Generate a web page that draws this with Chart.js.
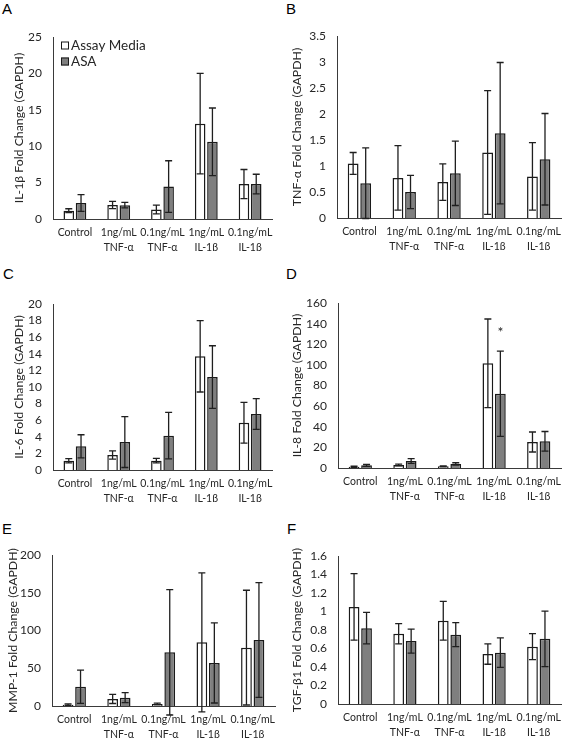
<!DOCTYPE html>
<html>
<head>
<meta charset="utf-8">
<script src="https://cdn.jsdelivr.net/npm/chart.js@4.4.0/dist/chart.umd.min.js"></script>
<style>
  body { margin: 0; background: #fff; width: 568px; height: 741px; position: relative; overflow: hidden; }
  canvas { position: absolute; }
  .letter { position: absolute; font-family: "Liberation Sans", Arial, sans-serif; font-size: 15px; line-height: 15px; color: #000; }
</style>
</head>
<body>
<div class="letter" style="left:2px;top:1px">A</div>
<div class="letter" style="left:286px;top:1px">B</div>
<div class="letter" style="left:3px;top:266px">C</div>
<div class="letter" style="left:286px;top:266px">D</div>
<div class="letter" style="left:2px;top:521px">E</div>
<div class="letter" style="left:287px;top:521px">F</div>

<canvas id="chartA" width="284" height="256" style="left:0;top:0"></canvas>
<canvas id="chartB" width="284" height="256" style="left:284px;top:0"></canvas>
<canvas id="chartC" width="284" height="248" style="left:0;top:256px"></canvas>
<canvas id="chartD" width="284" height="248" style="left:284px;top:256px"></canvas>
<canvas id="chartE" width="284" height="237" style="left:0;top:504px"></canvas>
<canvas id="chartF" width="284" height="237" style="left:284px;top:504px"></canvas>

<script>
const categories = [["Control"], ["1ng/mL", "TNF-α"], ["0.1ng/mL", "TNF-α"], ["1ng/mL", "IL-1β"], ["0.1ng/mL", "IL-1β"]];
const seriesNames = ["Assay Media", "ASA"];

// A - IL-1b
const il1bMedia = [1.15, 1.93, 1.3, 13.1, 4.8];
const il1bMediaErr = [0.26, 0.5, 0.6, 6.9, 2.0];
const il1bAsa = [2.2, 1.9, 4.45, 10.6, 4.8];
const il1bAsaErr = [1.15, 0.38, 3.55, 4.65, 1.35];

// B - TNF-a
const tnfMedia = [1.05, 0.77, 0.69, 1.26, 0.8];
const tnfMediaErr = [0.21, 0.62, 0.35, 1.19, 0.65];
const tnfAsa = [0.67, 0.5, 0.86, 1.63, 1.13];
const tnfAsaErr = [0.68, 0.32, 0.62, 1.36, 0.88];

// C - IL-6
const il6Media = [1.12, 1.8, 1.12, 13.7, 5.7];
const il6MediaErr = [0.25, 0.5, 0.27, 4.3, 2.45];
const il6Asa = [2.85, 3.37, 4.14, 11.2, 6.75];
const il6AsaErr = [1.4, 3.07, 2.8, 3.77, 1.85];

// D - IL-8
const il8Media = [1.3, 2.9, 1.6, 101.5, 25.2];
const il8MediaErr = [0.6, 0.8, 0.5, 43, 9.7];
const il8Asa = [2.6, 6.8, 4.0, 72, 25.9];
const il8AsaErr = [1.0, 2.3, 1.1, 41.3, 9.5];
const il8AsaStars = ["", "", "", "*", ""];

// E - MMP-1
const mmp1Media = [1.8, 9.3, 2.6, 84.3, 77.3];
const mmp1MediaErr = [1.0, 6, 1.2, 92, 76];
const mmp1Asa = [25.6, 11, 71.1, 57, 87.4];
const mmp1AsaErr = [22, 6.6, 83, 53, 76];

// F - TGF-b1
const tgfMedia = [1.05, 0.76, 0.9, 0.54, 0.62];
const tgfMediaErr = [0.36, 0.11, 0.21, 0.11, 0.14];
const tgfAsa = [0.82, 0.68, 0.75, 0.555, 0.705];
const tgfAsaErr = [0.17, 0.13, 0.13, 0.16, 0.3];

const yMax = { A: 25, B: 3.5, C: 20, D: 160, E: 200, F: 1.6 };
const yStep = { A: 5, B: 0.5, C: 2, D: 20, E: 50, F: 0.2 };

const textColor = "#262626";
const fontName = "Lato, 'Open Sans', sans-serif";

// draws the error bars (and stars) with the chart's own scales
const errorBars = {
  id: "errorBars",
  afterDatasetsDraw(chart) {
    const ctx = chart.ctx;
    const yScale = chart.scales.y;
    chart.data.datasets.forEach((ds, i) => {
      const meta = chart.getDatasetMeta(i);
      meta.data.forEach((bar, j) => {
        const v = ds.data[j];
        const e = ds.errors[j];
        const yTop = yScale.getPixelForValue(v + e);
        const yBot = yScale.getPixelForValue(v - e);
        ctx.save();
        ctx.strokeStyle = "#1f1f1f";
        ctx.lineWidth = 1.3;
        ctx.beginPath();
        ctx.moveTo(bar.x, yTop);
        ctx.lineTo(bar.x, yBot);
        ctx.moveTo(bar.x - 3.5, yTop);
        ctx.lineTo(bar.x + 3.5, yTop);
        ctx.moveTo(bar.x - 3.5, yBot);
        ctx.lineTo(bar.x + 3.5, yBot);
        ctx.stroke();
        if (ds.stars && ds.stars[j]) {
          ctx.fillStyle = textColor;
          ctx.font = "14px " + fontName;
          ctx.textAlign = "center";
          ctx.textBaseline = "middle";
          ctx.fillText(ds.stars[j], bar.x, yTop - 19);
        }
        ctx.restore();
      });
    });
  }
};

// small legend inside the plot, top left
const boxLegend = {
  id: "boxLegend",
  afterDraw(chart, args, o) {
    if (!o.show) return;
    const ctx = chart.ctx;
    const a = chart.chartArea;
    chart.data.datasets.forEach((ds, i) => {
      const y = a.top + 8.5 + i * 16;
      ctx.save();
      ctx.fillStyle = ds.backgroundColor;
      ctx.fillRect(a.left + 8, y - 4, 8, 8);
      ctx.strokeStyle = ds.borderColor;
      ctx.lineWidth = 1;
      ctx.strokeRect(a.left + 8.5, y - 3.5, 7, 7);
      ctx.fillStyle = textColor;
      ctx.font = "13.5px " + fontName;
      ctx.textAlign = "left";
      ctx.textBaseline = "middle";
      ctx.fillText(ds.label, a.left + 18, y);
      ctx.restore();
    });
  }
};

function makeChart(id, key, title, media, mediaErr, asa, asaErr, box, opts) {
  opts = opts || {};
  const c = document.getElementById(id);
  const cx = parseFloat(c.style.left) || 0;
  const cy = parseFloat(c.style.top) || 0;
  const xAxisH = 32;
  const leftPad = opts.leftPad == null ? 2 : opts.leftPad;
  return new Chart(c.getContext("2d"), {
    type: "bar",
    data: {
      labels: categories,
      datasets: [
        {
          label: seriesNames[0],
          data: media,
          errors: mediaErr,
          backgroundColor: "#ffffff",
          borderColor: "#1a1a1a",
          borderWidth: 1.5,
          categoryPercentage: 0.56,
          barPercentage: 0.86
        },
        {
          label: seriesNames[1],
          data: asa,
          errors: asaErr,
          stars: opts.stars,
          backgroundColor: "#7f7f7f",
          borderColor: "#1a1a1a",
          borderWidth: 1.5,
          categoryPercentage: 0.56,
          barPercentage: 0.86
        }
      ]
    },
    options: {
      responsive: false,
      animation: false,
      devicePixelRatio: 1,
      layout: {
        padding: {
          top: box.top - cy,
          left: leftPad,
          right: cx + c.width - box.right,
          bottom: cy + c.height - box.bottom - xAxisH
        }
      },
      plugins: {
        legend: { display: false },
        tooltip: { enabled: false },
        boxLegend: { show: !!opts.legend }
      },
      scales: {
        x: {
          grid: { display: false, drawTicks: false },
          border: { display: true, color: "#3a3a3a", width: 1 },
          ticks: {
            color: textColor,
            font: { family: fontName, size: 10.5, lineHeight: 1.35 },
            padding: 7,
            maxRotation: 0,
            autoSkip: false
          },
          afterFit: function (axis) { axis.height = xAxisH; }
        },
        y: {
          min: 0,
          max: yMax[key],
          grid: { display: false, drawTicks: false },
          border: { display: true, color: "#3a3a3a", width: 1 },
          ticks: {
            stepSize: yStep[key],
            autoSkip: false,
            color: textColor,
            font: { family: fontName, size: 12 },
            padding: 11,
            callback: function (v) { return String(+v.toFixed(2)); }
          },
          title: {
            display: true,
            text: title,
            color: textColor,
            font: { family: fontName, size: 12.3 },
            padding: { top: 4, bottom: 4 }
          },
          afterFit: function (axis) { axis.width = box.left - cx - leftPad; }
        }
      }
    },
    plugins: [errorBars, boxLegend]
  });
}

makeChart("chartA", "A", "IL-1β Fold Change (GAPDH)", il1bMedia, il1bMediaErr, il1bAsa, il1bAsaErr,
  { left: 53, top: 37, right: 272, bottom: 219 }, { legend: true, leftPad: 8 });
makeChart("chartB", "B", "TNF-α Fold Change (GAPDH)", tnfMedia, tnfMediaErr, tnfAsa, tnfAsaErr,
  { left: 337, top: 36, right: 567, bottom: 218 });
makeChart("chartC", "C", "IL-6 Fold Change (GAPDH)", il6Media, il6MediaErr, il6Asa, il6AsaErr,
  { left: 53, top: 304, right: 272, bottom: 470 }, { leftPad: 8 });
makeChart("chartD", "D", "IL-8 Fold Change (GAPDH)", il8Media, il8MediaErr, il8Asa, il8AsaErr,
  { left: 338, top: 303, right: 567, bottom: 468 }, { stars: il8AsaStars });
makeChart("chartE", "E", "MMP-1 Fold Change (GAPDH)", mmp1Media, mmp1MediaErr, mmp1Asa, mmp1AsaErr,
  { left: 52, top: 555, right: 275, bottom: 706 });
makeChart("chartF", "F", "TGF-β1 Fold Change (GAPDH)", tgfMedia, tgfMediaErr, tgfAsa, tgfAsaErr,
  { left: 338, top: 556, right: 567, bottom: 704 });
</script>
</body>
</html>
